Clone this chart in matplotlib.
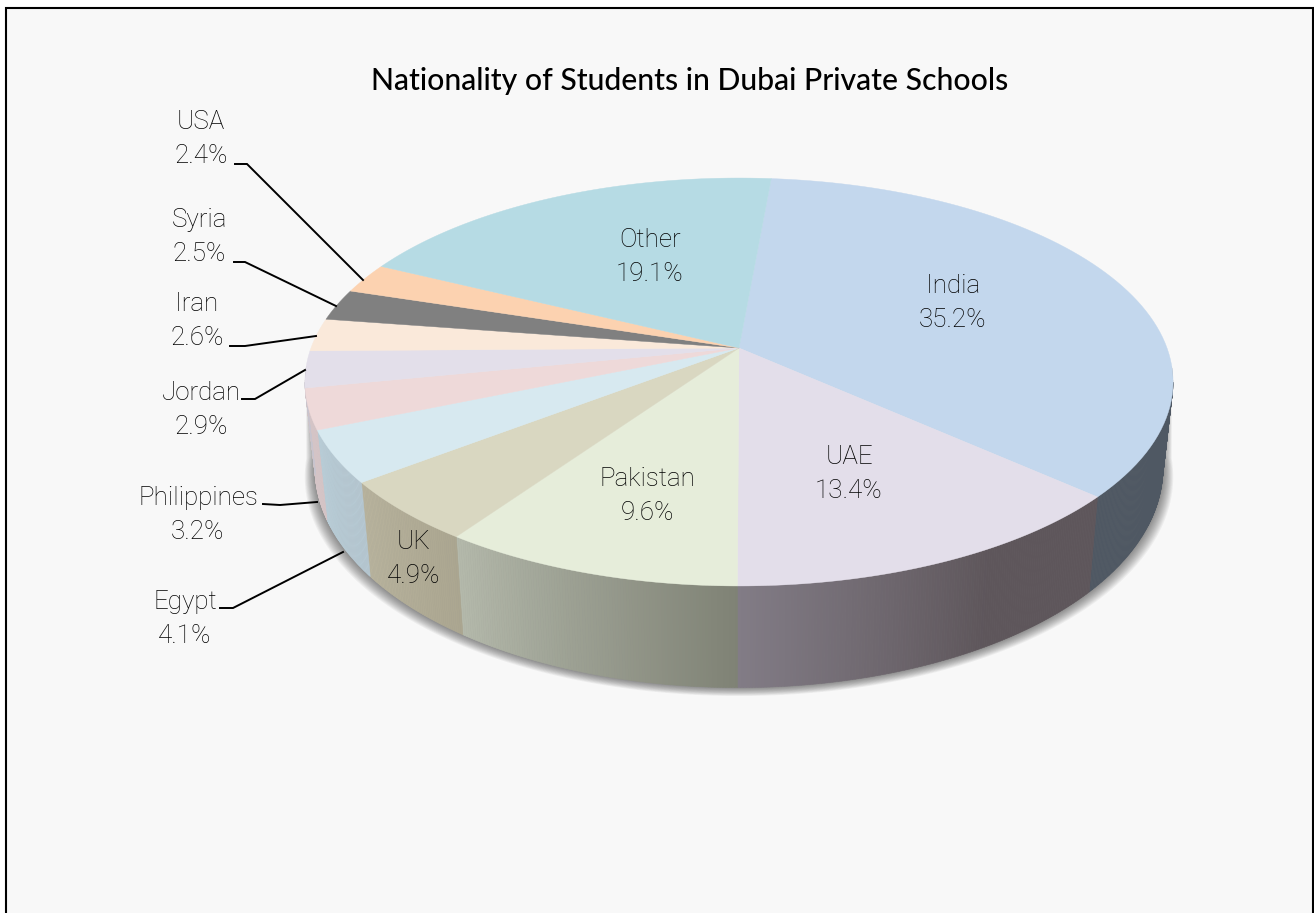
import numpy as np
import matplotlib
matplotlib.use("Agg")
import matplotlib.pyplot as plt
from matplotlib.colors import to_rgb
from matplotlib.patches import Polygon, Rectangle

# Data
countries = ["India", "UAE", "Pakistan", "UK", "Egypt", "Philippines",
             "Jordan", "Iran", "Syria", "USA", "Other"]
shares = [35.2, 13.4, 9.6, 4.9, 4.1, 3.2, 2.9, 2.6, 2.5, 2.4, 19.1]
top_colors = ["#c3d7ed", "#e3deea", "#e6edda", "#d9d7c1", "#d7e9f0", "#eed9d9",
              "#e3dfea", "#fae9da", "#808080", "#fcd2b0", "#b6dbe4"]
# side colours: (left end, right end as seen on screen)
side_colors = [("#4f5863", "#4f5863"), ("#827c86", "#5e565b"), ("#b4b9ab", "#7f8275"),
               ("#b8b39d", "#aba690"), ("#b8ccd6", "#b6c8d2"), ("#d4c4c6", "#d4c4c6"),
               ("#c8c4ce", "#c8c4ce"), ("#d0c4b8", "#d0c4b8"), ("#707070", "#707070"),
               ("#d0b090", "#d0b090"), ("#a0c0c8", "#a0c0c8")]

# Label placement in pixels: text centre, then the leader line
label_xy = [(953, 303), (849, 474), (647, 496), (414, 559), (185, 619), (198, 515),
            (201, 410), (197, 321), (199, 237), (201, 139), (650, 257)]
leaders = {
    "USA": [(235, 164), (247, 164), (363, 280)],
    "Syria": [(234, 262), (245, 262), (336, 306)],
    "Iran": [(230, 346), (245, 346), (316, 336)],
    "Jordan": [(242, 399), (255, 399), (305, 370)],
    "Philippines": [(263, 504), (280, 505), (317, 502)],
    "Egypt": [(220, 608), (233, 608), (343, 552)],
}

START_ANGLE = 5.04
PERSP = 1 / 6
CX = 739


def project(angle, rx, ry, cy):
    """Clock angle in degrees to screen pixels, with the perspective of the disc."""
    a = np.radians(angle)
    u, v = np.sin(a), np.cos(a)
    w = 1 + PERSP * v
    return CX + rx * u / w, cy - ry * v / w


def top_rim(angle):
    return project(angle, 428, 198.3, 348)


def bottom_rim(angle):
    return project(angle, 418, 213, 432)


fig = plt.figure(figsize=(13.14, 9.13), dpi=100, facecolor="white")
ax = fig.add_axes([0, 0, 1, 1])
ax.set_xlim(0, 1314)
ax.set_ylim(913, 0)
ax.axis("off")

ax.add_patch(Rectangle((6, 8), 1307, 920, facecolor="#f8f8f8", edgecolor="black", linewidth=1.5))

# Soft shadow under the disc
ring = np.linspace(95, 265, 200)
for i in range(12, 0, -1):
    xs, ys = bottom_rim(ring)
    xs = CX + (xs - CX) * (1 + i * 0.85 / 420)
    ys = ys + i * 0.7
    tx, ty = top_rim(ring[::-1])
    pts = np.column_stack([np.r_[xs, tx], np.r_[ys, ty]])
    ax.add_patch(Polygon(pts, facecolor="#303030", edgecolor="none", alpha=0.055, zorder=2))

edges = START_ANGLE + np.cumsum([0] + shares) * 360 / sum(shares)
VIS_LO, VIS_HI = 99.6, 260.4

# Side faces, cut into thin strips for the gradient
for i, name in enumerate(countries):
    lo, hi = max(edges[i], VIS_LO), min(edges[i + 1], VIS_HI)
    if hi <= lo:
        continue
    steps = np.linspace(lo, hi, int((hi - lo) * 3) + 2)
    right, left = np.array(to_rgb(side_colors[i][1])), np.array(to_rgb(side_colors[i][0]))
    for a0, a1 in zip(steps[:-1], steps[1:]):
        frac = 1 - ((a0 + a1) / 2 - lo) / (hi - lo)
        if name == "UAE":
            # goes dark quickly, then stays flat to the right
            frac = min(1.0, frac * 1.6)
        col = left + (right - left) * frac
        x0, y0 = top_rim(a0)
        x1, y1 = top_rim(a1)
        x2, y2 = bottom_rim(a1)
        x3, y3 = bottom_rim(a0)
        ax.add_patch(Polygon([(x0, y0), (x1, y1), (x2, y2), (x3, y3)], facecolor=col,
                             edgecolor=col, linewidth=0.4, zorder=3))

# Top face
for i in range(len(countries)):
    arc = np.linspace(edges[i], edges[i + 1], 80)
    xs, ys = top_rim(arc)
    pts = np.column_stack([np.r_[CX, xs], np.r_[348, ys]])
    ax.add_patch(Polygon(pts, facecolor=top_colors[i], edgecolor=top_colors[i],
                         linewidth=0.3, zorder=4))

for name, pts in leaders.items():
    ax.plot(*zip(*pts), color="black", linewidth=1.4, zorder=5, solid_joinstyle="miter")

for name, share, (x, y) in zip(countries, shares, label_xy):
    ax.text(x, y, f"{name}\n{share}%", ha="center", va="center", fontsize=18.7,
            family="Roboto", fontweight="light", color="black", linespacing=1.56, zorder=6)

ax.text(690, 81, "Nationality of Students in Dubai Private Schools", ha="center", va="center",
        fontsize=21.7, family="Lato", fontweight="medium", color="black", zorder=6)

fig.savefig("out.png", dpi=100, facecolor="white")
